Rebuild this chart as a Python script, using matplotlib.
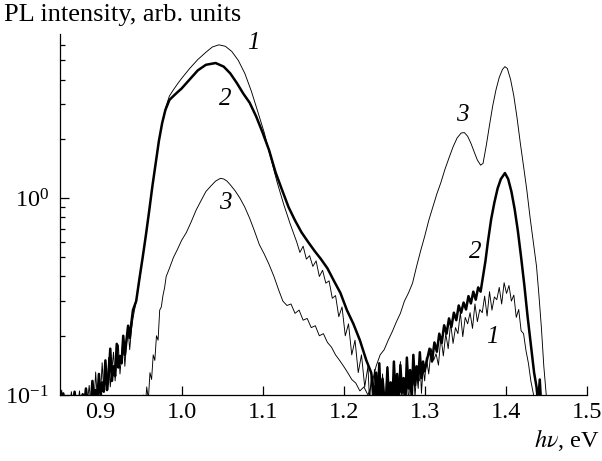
import matplotlib
matplotlib.use('Agg')
import matplotlib.pyplot as plt
from matplotlib.ticker import NullFormatter, LogLocator

plt.rcParams['font.family'] = ['Liberation Serif', 'DejaVu Serif']
plt.rcParams['mathtext.fontset'] = 'stix'

# curve 1 (thin) - photon energy, eV
x1 = [0.850, 0.852, 0.854, 0.856, 0.858, 0.860, 0.862, 0.864, 0.866, 0.868,
      0.870, 0.872, 0.874, 0.876, 0.878, 0.880, 0.882, 0.884, 0.886, 0.888,
      0.890, 0.892, 0.894, 0.896, 0.898, 0.900, 0.902, 0.904, 0.906, 0.908,
      0.910, 0.912, 0.914, 0.916, 0.918, 0.920, 0.922, 0.924, 0.926, 0.928,
      0.930, 0.932, 0.934, 0.936, 0.938, 0.940,
      0.944, 0.948, 0.952, 0.956, 0.960, 0.964, 0.968, 0.972, 0.976, 0.980,
      0.985, 0.990, 0.995, 1.000, 1.010, 1.020, 1.030, 1.038, 1.046, 1.054,
      1.062, 1.070, 1.078, 1.086, 1.094, 1.102, 1.110, 1.118, 1.126, 1.134,
      1.142,
      1.146, 1.150, 1.154, 1.158, 1.162, 1.166, 1.170, 1.174, 1.178, 1.182,
      1.186, 1.190, 1.194, 1.198, 1.202, 1.206, 1.210, 1.214, 1.218, 1.222,
      1.226, 1.230,
      1.232, 1.234, 1.236, 1.238, 1.240, 1.242, 1.244, 1.246, 1.248, 1.250,
      1.252, 1.254, 1.256, 1.258, 1.260, 1.262, 1.264, 1.266, 1.268, 1.270,
      1.272, 1.274, 1.276, 1.278, 1.280, 1.282, 1.284, 1.286, 1.288, 1.290,
      1.292, 1.294, 1.296, 1.298, 1.300,
      1.302, 1.305, 1.308, 1.311, 1.314, 1.317, 1.320, 1.323, 1.326, 1.329,
      1.332, 1.335, 1.338, 1.341, 1.344, 1.347, 1.350, 1.353, 1.356, 1.359,
      1.362, 1.365, 1.368, 1.371, 1.374, 1.377, 1.380, 1.383, 1.386, 1.389,
      1.392, 1.395, 1.398, 1.401, 1.404, 1.407, 1.410, 1.413, 1.416, 1.419,
      1.422, 1.425, 1.428, 1.431, 1.434, 1.437, 1.440]
y1 = [0.092, 0.106, 0.090, 0.088, 0.094, 0.089, 0.087, 0.104, 0.090, 0.088,
      0.093, 0.089, 0.105, 0.087, 0.091, 0.098, 0.088, 0.094, 0.112, 0.089,
      0.098, 0.092, 0.131, 0.095, 0.110, 0.101, 0.146, 0.104, 0.122, 0.108,
      0.155, 0.110, 0.135, 0.165, 0.118, 0.150, 0.180, 0.128, 0.162, 0.198,
      0.140, 0.182, 0.215, 0.170, 0.212, 0.245,
      0.30, 0.38, 0.50, 0.64, 0.85, 1.15, 1.5, 1.95, 2.4, 2.85,
      3.3, 3.55, 3.8, 4.05, 4.55, 5.05, 5.5, 5.85, 6.0, 5.9,
      5.55, 5.0, 4.3, 3.5, 2.75, 2.15, 1.6, 1.2, 0.93, 0.74,
      0.60,
      0.53, 0.57, 0.49, 0.51, 0.45, 0.48, 0.40, 0.43, 0.37, 0.38,
      0.31, 0.32, 0.25, 0.28, 0.20, 0.23, 0.16, 0.19, 0.13, 0.16,
      0.11, 0.14,
      0.092, 0.125, 0.088, 0.135, 0.10, 0.086, 0.118, 0.090, 0.128, 0.087,
      0.104, 0.140, 0.088, 0.112, 0.094, 0.136, 0.087, 0.121, 0.096, 0.148,
      0.088, 0.117, 0.099, 0.138, 0.090, 0.124, 0.104, 0.152, 0.097, 0.128,
      0.108, 0.158, 0.102, 0.137, 0.118,
      0.155, 0.128, 0.172, 0.150, 0.162, 0.142, 0.198, 0.158, 0.205, 0.172,
      0.232, 0.183, 0.220, 0.205, 0.262, 0.198, 0.248, 0.230, 0.262, 0.218,
      0.290, 0.236, 0.272, 0.262, 0.318, 0.252, 0.335, 0.270, 0.315, 0.305,
      0.352, 0.290, 0.372, 0.328, 0.360, 0.300, 0.322, 0.248, 0.272, 0.212,
      0.205, 0.168, 0.145, 0.118, 0.102, 0.085, 0.07]

# curve 2 (thick)
x2 = [0.850, 0.852, 0.854, 0.856, 0.858, 0.860, 0.862, 0.864, 0.866, 0.868,
      0.870, 0.872, 0.874, 0.876, 0.878, 0.880, 0.882, 0.884, 0.886, 0.888,
      0.890, 0.892, 0.894, 0.896, 0.898, 0.900, 0.902, 0.904, 0.906, 0.908,
      0.910, 0.912, 0.914, 0.916, 0.918, 0.920, 0.922, 0.924, 0.926, 0.928,
      0.930, 0.932, 0.934, 0.936, 0.938, 0.940,
      0.944, 0.948, 0.952, 0.956, 0.960, 0.964, 0.968, 0.972, 0.976, 0.980,
      0.985, 0.990, 0.995, 1.000, 1.010, 1.020, 1.030, 1.042, 1.052, 1.060,
      1.068, 1.076, 1.084, 1.092, 1.100, 1.108, 1.116, 1.124, 1.132, 1.140,
      1.148, 1.156, 1.164, 1.172, 1.180, 1.188, 1.196, 1.204, 1.212, 1.220,
      1.228, 1.234,
      1.236, 1.238, 1.240, 1.242, 1.244, 1.246, 1.248, 1.250, 1.252, 1.254,
      1.256, 1.258, 1.260, 1.262, 1.264, 1.266, 1.268, 1.270, 1.272, 1.274,
      1.276, 1.278, 1.280, 1.282, 1.284, 1.286, 1.288, 1.290, 1.292, 1.294,
      1.296, 1.298, 1.300,
      1.303, 1.306, 1.309, 1.312, 1.315, 1.318, 1.321, 1.324, 1.327, 1.330,
      1.333, 1.336, 1.339, 1.342, 1.345, 1.348, 1.351, 1.354, 1.357, 1.360,
      1.363, 1.366, 1.369, 1.372, 1.375,
      1.378, 1.382, 1.386, 1.390, 1.394, 1.399, 1.403, 1.407, 1.411, 1.415,
      1.419, 1.423, 1.427, 1.431, 1.435, 1.438, 1.440, 1.442, 1.444, 1.446]
y2 = [0.088, 0.094, 0.102, 0.089, 0.087, 0.092, 0.098, 0.088, 0.090, 0.104,
      0.089, 0.096, 0.088, 0.094, 0.101, 0.090, 0.108, 0.092, 0.099, 0.090,
      0.118, 0.094, 0.106, 0.092, 0.128, 0.100, 0.116, 0.104, 0.150, 0.106,
      0.125, 0.172, 0.118, 0.140, 0.125, 0.182, 0.138, 0.158, 0.145, 0.200,
      0.160, 0.190, 0.225, 0.195, 0.232, 0.270,
      0.30, 0.39, 0.50, 0.65, 0.86, 1.15, 1.5, 1.95, 2.4, 2.8,
      3.15, 3.3, 3.45, 3.6, 4.0, 4.45, 4.75, 4.85, 4.65, 4.3,
      3.85, 3.4, 3.05, 2.6, 2.15, 1.75, 1.35, 1.1, 0.9, 0.77,
      0.67, 0.60, 0.54, 0.49, 0.44, 0.38, 0.33, 0.27, 0.23, 0.19,
      0.15, 0.13,
      0.112, 0.087, 0.130, 0.092, 0.145, 0.086, 0.121, 0.098, 0.085, 0.138,
      0.090, 0.116, 0.086, 0.148, 0.097, 0.128, 0.088, 0.142, 0.103, 0.122,
      0.087, 0.155, 0.108, 0.134, 0.096, 0.160, 0.112, 0.140, 0.118, 0.165,
      0.122, 0.148, 0.132,
      0.152, 0.172, 0.148, 0.185, 0.166, 0.205, 0.184, 0.226, 0.205, 0.245,
      0.222, 0.262, 0.240, 0.285, 0.262, 0.295, 0.272, 0.318, 0.292, 0.335,
      0.305, 0.352, 0.335, 0.400, 0.480,
      0.60, 0.78, 0.95, 1.12, 1.25, 1.34, 1.25, 1.08, 0.88, 0.68,
      0.50, 0.36, 0.25, 0.18, 0.13, 0.11, 0.09, 0.12, 0.085, 0.07]

# curve 3 (thin)
x3 = [0.950, 0.953, 0.955, 0.957, 0.959, 0.961, 0.963, 0.965, 0.967, 0.969,
      0.971, 0.973, 0.975, 0.977, 0.979, 0.981, 0.985, 0.990, 0.995, 1.000,
      1.006, 1.012, 1.018, 1.024, 1.030, 1.036, 1.042, 1.048, 1.052, 1.056,
      1.060, 1.066, 1.072, 1.078, 1.084, 1.090, 1.096, 1.102, 1.108, 1.114,
      1.120, 1.125, 1.130, 1.135, 1.140, 1.145, 1.150, 1.155, 1.160, 1.165,
      1.170, 1.175, 1.180, 1.185, 1.190, 1.195, 1.200, 1.205, 1.210, 1.215,
      1.220, 1.225, 1.230, 1.235, 1.240, 1.245, 1.250, 1.255, 1.260, 1.265,
      1.270, 1.275, 1.280, 1.285, 1.290, 1.295, 1.300, 1.305, 1.310, 1.315,
      1.320, 1.325, 1.330, 1.335, 1.340, 1.345, 1.349, 1.353, 1.357, 1.361,
      1.365, 1.369, 1.372, 1.376, 1.380, 1.384, 1.388, 1.392, 1.396, 1.399,
      1.402, 1.406, 1.410, 1.414, 1.418, 1.422, 1.426, 1.430, 1.434, 1.438,
      1.441, 1.444, 1.447, 1.450, 1.452, 1.455]
y3 = [0.07, 0.10, 0.085, 0.11, 0.095, 0.13, 0.12, 0.16, 0.15, 0.20,
      0.19, 0.27, 0.28, 0.32, 0.35, 0.40, 0.44, 0.50, 0.55, 0.61,
      0.67, 0.76, 0.87, 0.97, 1.08, 1.15, 1.22, 1.26, 1.25, 1.22,
      1.17, 1.09, 1.0, 0.9, 0.79, 0.68, 0.58, 0.52, 0.46, 0.40,
      0.34, 0.30, 0.285, 0.29, 0.26, 0.27, 0.24, 0.245, 0.22, 0.225,
      0.20, 0.205, 0.185, 0.175, 0.16, 0.15, 0.14, 0.13, 0.12, 0.115,
      0.105, 0.11, 0.10, 0.115, 0.14, 0.16, 0.17, 0.19, 0.21, 0.235,
      0.26, 0.30, 0.33, 0.37, 0.45, 0.54, 0.64, 0.77, 0.9, 1.05,
      1.2, 1.4, 1.6, 1.82, 2.02, 2.14, 2.15, 2.06, 1.9, 1.72,
      1.56, 1.47, 1.5, 1.85, 2.35, 2.95, 3.55, 4.1, 4.5, 4.65,
      4.55, 4.0, 3.3, 2.55, 1.9, 1.45, 1.1, 0.8, 0.6, 0.45,
      0.32, 0.22, 0.14, 0.10, 0.085, 0.07]

# curve numbers: text, x, y
lbl_txt = ['1', '2', '3', '3', '2', '1']
lbl_x = [1.089, 1.054, 1.054, 1.346, 1.362, 1.384]
lbl_y = [6.1, 3.2, 0.94, 2.65, 0.53, 0.197]

fig = plt.figure(figsize=(6.02, 4.61), dpi=100)
ax = fig.add_axes([0.0997, 0.143, 0.875, 0.783])

ax.plot(x1, y1, color='black', lw=0.65)
ax.plot(x2, y2, color='black', lw=1.8)
ax.plot(x3, y3, color='black', lw=0.65)

for t, xx, yy in zip(lbl_txt, lbl_x, lbl_y):
    ax.text(xx, yy, t, fontsize=18, style='italic', ha='center', va='center')

ax.set_yscale('log')
ax.set_xlim(0.85, 1.5)
ax.set_ylim(0.1, 6.8)
ax.set_xticks([0.9, 1.0, 1.1, 1.2, 1.3, 1.4, 1.5])
ax.set_xticklabels(['0.9', '1.0', '1.1', '1.2', '1.3', '1.4', '1.5'])
ax.yaxis.set_major_locator(LogLocator(base=10))
ax.yaxis.set_minor_locator(LogLocator(base=10, subs=range(2, 10)))
ax.yaxis.set_minor_formatter(NullFormatter())

ax.spines['top'].set_visible(False)
ax.spines['right'].set_visible(False)
ax.spines['left'].set_linewidth(0.9)
ax.spines['bottom'].set_linewidth(0.9)
ax.tick_params(which='major', direction='in', length=6.5, width=0.9, labelsize=17.5, pad=5)
ax.tick_params(which='minor', direction='in', length=3.6, width=0.9)
ax.tick_params(axis='y', pad=8)

fig.text(0.006, 0.992, 'PL intensity, arb. units', fontsize=19, ha='left', va='top')
fig.text(0.996, 0.045, r'$h\nu$, eV', fontsize=17.5, ha='right', va='center')

plt.savefig('out.png', dpi=100)
